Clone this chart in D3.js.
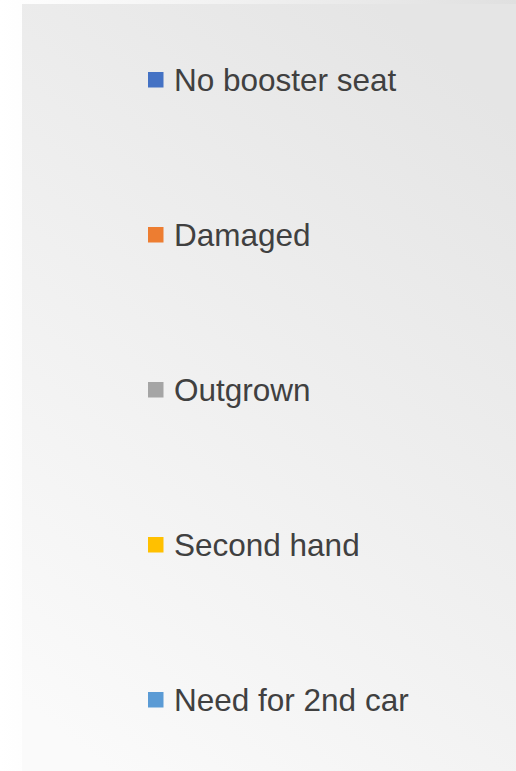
<!DOCTYPE html>
<html>
<head>
<meta charset="utf-8">
<script src="https://cdn.jsdelivr.net/npm/d3@7"></script>
<style>
  html, body { margin: 0; padding: 0; background: #fff; }
  svg { display: block; }
</style>
</head>
<body>
<div class="chart"></div>
<script>
const categories = ["No booster seat", "Damaged", "Outgrown", "Second hand", "Need for 2nd car"];
const seriesColors = ["#4472C4", "#ED7D31", "#A5A5A5", "#FFC000", "#5B9BD5"];

const width = 516;
const height = 771;

const svg = d3.select(".chart")
  .append("svg")
  .attr("width", width)
  .attr("height", height);

const defs = svg.append("defs");

const outerGrad = defs.append("linearGradient")
  .attr("id", "outerGrad")
  .attr("gradientUnits", "userSpaceOnUse")
  .attr("x1", 0).attr("y1", 0)
  .attr("x2", width).attr("y2", 0);
outerGrad.append("stop").attr("offset", "0").attr("stop-color", "#ffffff");
outerGrad.append("stop").attr("offset", "1").attr("stop-color", "#e0e0e0");

// panel shading runs mostly left to right, a little darker toward the top
const innerGrad = defs.append("linearGradient")
  .attr("id", "innerGrad")
  .attr("gradientUnits", "userSpaceOnUse")
  .attr("x1", 22).attr("y1", 700)
  .attr("x2", width).attr("y2", 120);
innerGrad.append("stop").attr("offset", "0").attr("stop-color", "#fafafa");
innerGrad.append("stop").attr("offset", "1").attr("stop-color", "#e5e5e5");

svg.append("rect")
  .attr("width", width)
  .attr("height", height)
  .attr("fill", "url(#outerGrad)");

svg.append("rect")
  .attr("x", 22)
  .attr("y", 4)
  .attr("width", width - 22)
  .attr("height", height - 4)
  .attr("fill", "url(#innerGrad)");

const yScale = d3.scalePoint()
  .domain(categories)
  .range([80, 700]);

const color = d3.scaleOrdinal()
  .domain(categories)
  .range(seriesColors);

const item = svg.selectAll("g.item")
  .data(categories)
  .join("g")
  .attr("class", "item")
  .attr("transform", d => `translate(148, ${yScale(d)})`);

item.append("rect")
  .attr("x", 0)
  .attr("y", -8)
  .attr("width", 15.5)
  .attr("height", 15.5)
  .attr("fill", d => color(d));

item.append("text")
  .text(d => d)
  .attr("x", 26)
  .attr("y", 11)
  .attr("fill", "#404040")
  .style("font-family", "'Liberation Sans', Arial, sans-serif")
  .style("font-size", "31.5px");
</script>
</body>
</html>
